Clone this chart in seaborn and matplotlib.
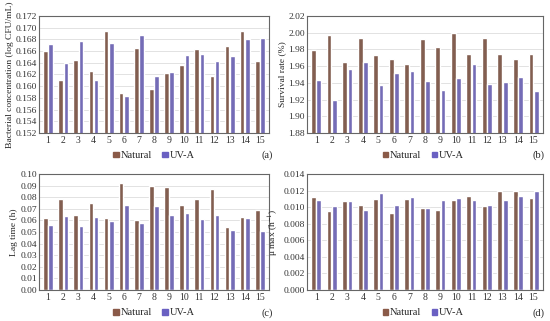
import pandas as pd
import matplotlib.pyplot as plt
import seaborn as sns

samples = [str(i) for i in range(1, 16)]

conc_natural = [0.1661, 0.1611, 0.1645, 0.1626, 0.1694, 0.1589, 0.1665, 0.1595,
                0.1623, 0.1636, 0.1664, 0.1618, 0.1669, 0.1695, 0.1643]
conc_uva = [0.1673, 0.1640, 0.1678, 0.1610, 0.1674, 0.1583, 0.1687, 0.1617,
            0.1625, 0.1654, 0.1655, 0.1643, 0.1652, 0.1681, 0.1682]

surv_natural = [1.979, 1.997, 1.965, 1.994, 1.973, 1.968, 1.962, 1.992,
                1.983, 2.000, 1.975, 1.994, 1.975, 1.969, 1.975]
surv_uva = [1.943, 1.920, 1.956, 1.965, 1.937, 1.952, 1.954, 1.942,
            1.931, 1.946, 1.963, 1.938, 1.941, 1.947, 1.930]

lag_natural = [0.062, 0.078, 0.065, 0.075, 0.062, 0.092, 0.060, 0.090,
               0.089, 0.073, 0.078, 0.087, 0.054, 0.063, 0.069]
lag_uva = [0.056, 0.064, 0.055, 0.063, 0.059, 0.073, 0.058, 0.072,
           0.065, 0.066, 0.061, 0.065, 0.052, 0.062, 0.051]

mu_natural = [0.0112, 0.0095, 0.0107, 0.0103, 0.0110, 0.0093, 0.0110, 0.0099,
              0.0097, 0.0109, 0.0113, 0.0101, 0.0120, 0.0119, 0.0111]
mu_uva = [0.0108, 0.0101, 0.0107, 0.0097, 0.0117, 0.0102, 0.0112, 0.0099,
          0.0109, 0.0111, 0.0108, 0.0102, 0.0109, 0.0113, 0.0119]

groups = ["Natural", "UV-A"]
colors = {"Natural": "#8a5a48", "UV-A": "#6a60c2"}

sns.set_style("white")
plt.rcParams['font.family'] = ['Liberation Serif', 'DejaVu Serif']
plt.rcParams['mathtext.fontset'] = 'stix'


def long_df(nat, uva):
    return pd.DataFrame({
        "sample": samples * 2,
        "value": nat + uva,
        "group": ["Natural"] * 15 + ["UV-A"] * 15,
    })


panels = [
    (conc_natural, conc_uva, "Bacterial concentration (log CFU/mL)", (0.152, 0.172), 0.002, "%.3f", "(a)"),
    (surv_natural, surv_uva, "Survival rate (%)", (1.88, 2.02), 0.02, "%.2f", "(b)"),
    (lag_natural, lag_uva, "Lag time (h)", (0.0, 0.10), 0.01, "%.2f", "(c)"),
    (mu_natural, mu_uva, "μ max (h$^{-1}$)", (0.0, 0.014), 0.002, "%.3f", "(d)"),
]

fig = plt.figure(figsize=(5.5, 3.21), dpi=100)
# axes rectangles in figure fractions (left, bottom, width, height)
rects = [
    (0.071, 0.586, 0.418, 0.364),
    (0.558, 0.586, 0.429, 0.364),
    (0.071, 0.097, 0.418, 0.361),
    (0.558, 0.097, 0.429, 0.361),
]
label_pos = [(0.497, 0.515), (0.99, 0.515), (0.497, 0.025), (0.99, 0.025)]
legend_x = [0.28, 0.77, 0.28, 0.77]
legend_y = [0.515, 0.515, 0.025, 0.025]

for (nat, uva, ylab, ylim, step, fmt, tag), rect, lp, lx, ly in zip(panels, rects, label_pos, legend_x, legend_y):
    ax = fig.add_axes(rect)
    df = long_df(nat, uva)
    sns.barplot(data=df, x="sample", y="value", hue="group", hue_order=groups,
                palette=colors, width=0.68, gap=0.1, ax=ax, legend=False)
    ax.set_ylim(*ylim)
    ticks = [ylim[0] + i * step for i in range(int(round((ylim[1] - ylim[0]) / step)) + 1)]
    ax.set_yticks(ticks)
    ax.set_yticklabels([fmt % t for t in ticks], fontsize=6.8, color="#333333")
    ax.tick_params(axis="x", labelsize=7, colors="#333333", length=0, pad=2)
    ax.tick_params(axis="y", length=0, pad=1.5)
    ax.set_xlabel("")
    ax.set_ylabel(ylab, fontsize=6.8, labelpad=1.5)
    ax.yaxis.grid(True, color="#dddddd", linewidth=0.6)
    ax.set_axisbelow(True)
    for s in ax.spines.values():
        s.set_color("#666666")
        s.set_linewidth(0.8)
    ax.set_xlim(-0.6, 14.6)
    handles = [plt.Rectangle((0, 0), 1, 1, color=colors[g]) for g in groups]
    fig.legend(handles, groups, loc="center", bbox_to_anchor=(lx, ly), ncol=2,
               frameon=False, fontsize=7.5, handlelength=0.5, handleheight=0.5,
               handletextpad=0.2, columnspacing=1.0)
    fig.text(lp[0], lp[1], tag, ha="right", va="center", fontsize=7.5)

fig.savefig("out.png", dpi=100)
